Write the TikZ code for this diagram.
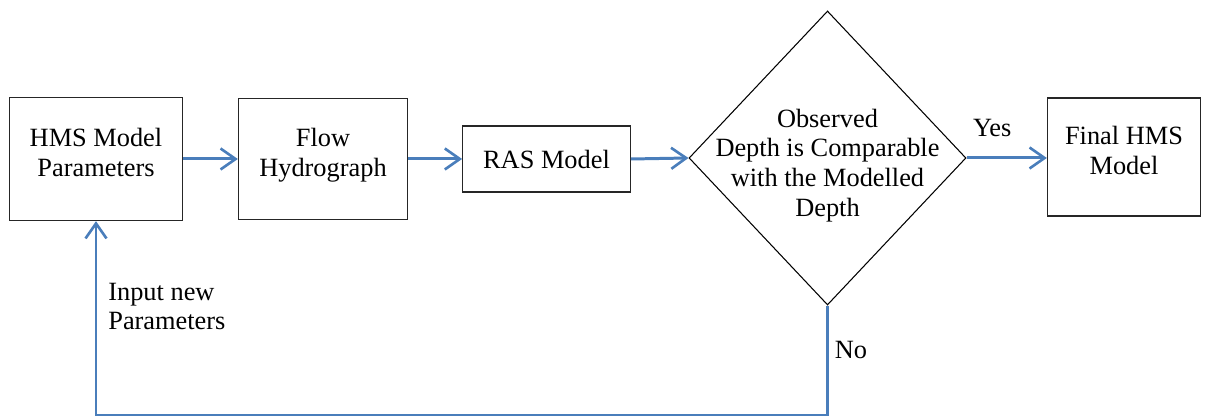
\documentclass[tikz,border=0pt]{standalone}
\usepackage{fontspec}
\setmainfont{Liberation Serif}
\usepackage{tikz}
\usetikzlibrary{arrows.meta}
\usetikzlibrary{shapes.geometric}
\definecolor{linkblue}{RGB}{74,126,187}
\tikzset{
  box/.style={draw=black!85, line width=0.75pt, align=center, inner sep=0pt},
  tallbox/.style={box, text depth=2.8mm},
  decision/.style={diamond, draw=black, line width=0.6pt, inner sep=0pt,
    minimum width=5.54cm, minimum height=5.88cm},
  link/.style={draw=linkblue, line width=1.7pt,
    -{Straight Barb[length=3mm, width=4.2mm, line width=1.5pt]}},
  lbl/.style={font=\fontsize{15pt}{17pt}\selectfont}
}

\begin{document}
\begin{tikzpicture}[font=\fontsize{15pt}{17pt}\selectfont]
  \useasboundingbox (0, 0) rectangle (24.14, 8.38);

  % boxes
  \node[tallbox, minimum width=3.46cm, minimum height=2.46cm] at (1.92, 5.2) (hms) {HMS Model\\Parameters};
  \node[tallbox, minimum width=3.38cm, minimum height=2.43cm] at (6.46, 5.2) (flow) {Flow\\Hydrograph};
  \node[box, minimum width=3.35cm, minimum height=1.32cm] at (10.93, 5.2) (ras) {RAS Model};
  \node[decision] at (16.55, 5.22) (dec) {};
  \node[align=center] at (16.55, 5.07) (dectext) {Observed\\Depth is Comparable\\with the Modelled\\Depth};
  \node[tallbox, minimum width=3.06cm, minimum height=2.36cm] at (22.48, 5.24) (final) {Final HMS\\Model};

  % forward links
  \draw[link] (hms.east) -- (flow.west);
  \draw[link] (flow.east) -- (ras.west);
  \draw[link] (ras.east) -- (dec.west);
  \draw[link] (dec.east) -- node[lbl, above=2.8mm, pos=.32] (yes) {Yes} (dec.east -| final.west);

  % feedback loop
  \coordinate (fb) at (16.55, 0.08);
  \draw[link] (dec.south) -- node[lbl, right, pos=.41] (no) {No} (fb)
    -| node[lbl, right=1mm, pos=.78, align=left] (newpar) {Input new\\Parameters} (hms.south);
\end{tikzpicture}
\end{document}
